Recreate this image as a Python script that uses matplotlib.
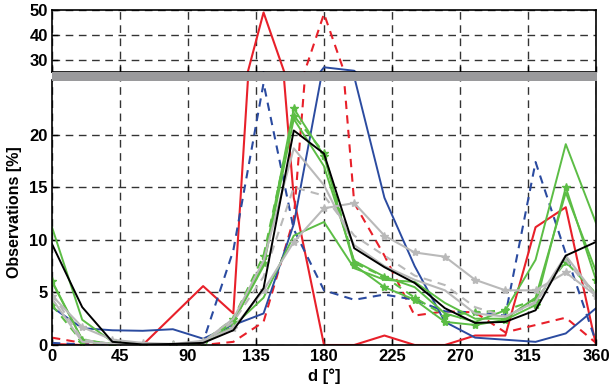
import matplotlib
matplotlib.use("Agg")
import matplotlib.pyplot as plt
from matplotlib.patches import Rectangle

plt.rcParams['font.family'] = ['Liberation Sans', 'DejaVu Sans']
plt.rcParams['font.weight'] = 'bold'

# ---------------- data ----------------
d = [0, 20, 40, 60, 80, 100, 120, 140, 160, 180, 200, 220, 240, 260, 280, 300, 320, 340, 360]

red_solid  = [0.1, 0, 0, 0, 2.8, 5.6, 3.0, 49, 14, 0, 0, 0.9, 0, 0, 0.9, 0.9, 11.2, 13.1, 0]
red_dash   = [0.7, 0.2, 0, 0, 0, 0, 0.3, 2.2, 12, 48.5, 13.5, 8.5, 2.8, 3.2, 3.1, 1.2, 1.9, 2.6, 0.2]
blue_solid = [3.6, 1.6, 1.4, 1.35, 1.5, 0.6, 1.9, 3.0, 11.5, 26.9, 25.5, 14, 7.5, 2.2, 0.7, 0.5, 0.3, 1.1, 3.5]
blue_dash  = [0.2, 0.05, 0, 0, 0, 0.3, 9, 24.9, 11, 5.2, 4.3, 4.8, 4.3, 3.2, 3.1, 2.8, 17.4, 8.7, 0.3]
green_a    = [11.2, 2.4, 0.3, 0, 0, 0.2, 2.2, 7.5, 21.5, 17, 8.0, 6.5, 5.5, 3.0, 2.2, 3.3, 8.1, 19.1, 11.6]
green_c    = [6.0, 0.5, 0.1, 0, 0, 0.2, 1.8, 4.5, 10.4, 11.7, 7.3, 6.2, 6.0, 4.0, 2.5, 2.5, 4.5, 14.5, 7.0]
green_mk   = [6.1, 0.5, 0.05, 0, 0, 0.2, 2.2, 7.8, 22.5, 18.0, 7.6, 5.5, 4.3, 2.2, 1.9, 2.4, 3.8, 15.0, 6.2]
green_dash = [3.8, 0.3, 0, 0, 0, 0.3, 2.5, 8.5, 21.8, 18.3, 7.8, 6.5, 4.5, 2.8, 3.1, 3.3, 4.3, 7.9, 4.9]
gray_mk    = [4.7, 1.7, 0.5, 0.2, 0.1, 0.4, 1.6, 5.2, 9.8, 13.0, 13.5, 10.4, 8.8, 8.4, 6.2, 5.2, 5.2, 6.9, 4.7]
gray_dash  = [4.9, 0.5, 0.1, 0, 0, 0.3, 2.2, 6.5, 15.0, 14.2, 10.4, 8.5, 6.6, 5.7, 3.6, 2.7, 4.0, 8.1, 4.6]
gray_solid = [4.4, 0.3, 0.1, 0, 0, 0.3, 2.5, 8.0, 18.7, 15.2, 9.5, 7.5, 6.2, 5.2, 3.0, 2.7, 4.1, 8.5, 4.7]
black      = [9.6, 3.6, 0.3, 0.05, 0.1, 0.2, 1.4, 5.4, 20.4, 18.2, 9.2, 7.4, 5.9, 3.5, 2.1, 2.2, 3.3, 8.5, 9.8]

xticks = [0, 45, 90, 135, 180, 225, 270, 315, 360]
yticks_low = [0, 5, 10, 15, 20]
yticks_high = [30, 40, 50]

RED = '#E8202A'
BLUE = '#2B4BA0'
GREEN = '#5CBD45'
GRAY = '#B9B9B9'

series = [
    (red_solid, dict(color=RED, ls='-', lw=1.5)),
    (red_dash, dict(color=RED, ls=(0, (4, 3)), lw=1.5)),
    (blue_solid, dict(color=BLUE, ls='-', lw=1.4)),
    (blue_dash, dict(color=BLUE, ls=(0, (4, 3)), lw=1.5)),
    (green_a, dict(color=GREEN, ls='-', lw=1.4)),
    (green_c, dict(color=GREEN, ls='-', lw=1.4)),
    (green_mk, dict(color=GREEN, ls='-', lw=1.4, marker='*', ms=6)),
    (green_dash, dict(color=GREEN, ls=(0, (4, 3)), lw=1.5, marker='*', ms=6)),
    (gray_dash, dict(color=GRAY, ls=(0, (4, 3)), lw=1.5)),
    (gray_solid, dict(color=GRAY, ls='-', lw=1.5)),
    (gray_mk, dict(color=GRAY, ls='-', lw=1.5, marker='*', ms=6)),
    (black, dict(color='black', ls='-', lw=1.4)),
]

W, H = 611, 389
fig = plt.figure(figsize=(W / 100, H / 100), dpi=100)

L, R = 52, 596
ax_lo = fig.add_axes([L / W, (H - 345) / H, (R - L) / W, (345 - 80) / H])
ax_hi = fig.add_axes([L / W, (H - 72) / H, (R - L) / W, (72 - 10) / H])

for ax in (ax_lo, ax_hi):
    for vals, kw in series:
        ax.plot(d, vals, clip_on=True, **kw)
    ax.set_xlim(0, 360)
    ax.set_xticks(xticks)
    ax.grid(True, color='#333333', ls=(0, (5.5, 4)), lw=1.0)
    ax.set_axisbelow(True)
    ax.tick_params(direction='in', length=4, width=1, labelsize=12, pad=3)
    for s in ax.spines.values():
        s.set_linewidth(1.2)

ax_lo.set_ylim(0, 25.2)
ax_lo.set_yticks(yticks_low)
ax_lo.set_xticklabels([str(t) for t in xticks], fontweight='bold')
ax_lo.set_xlabel('d [°]', fontsize=12, fontweight='bold', labelpad=3)
ax_lo.set_ylabel('Observations [%]', fontsize=11.5, fontweight='bold', labelpad=5)
ax_lo.spines['top'].set_visible(False)

ax_hi.set_ylim(25, 50)
ax_hi.set_yticks(yticks_high)
ax_hi.set_xticklabels([])

for lab in ax_lo.get_xticklabels() + ax_lo.get_yticklabels() + ax_hi.get_yticklabels():
    lab.set_fontweight('bold')

fig.patches.append(Rectangle((L / W, (H - 81) / H), (R - L + 1) / W, 9 / H,
                             transform=fig.transFigure, facecolor='#9A9A9C',
                             edgecolor='none', zorder=10))

fig.savefig('out.png', dpi=100)
